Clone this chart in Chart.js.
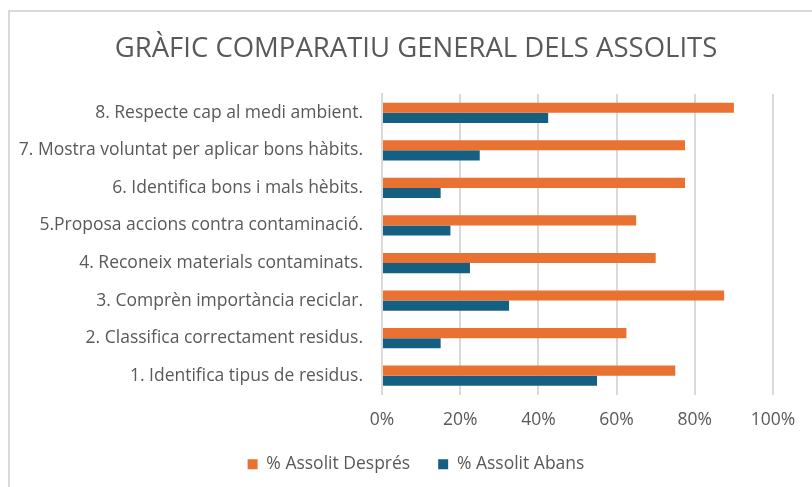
<!DOCTYPE html>
<html>
<head>
<meta charset="utf-8">
<script src="https://cdn.jsdelivr.net/npm/chart.js@4.4.1/dist/chart.umd.min.js"></script>
<style>
  html, body { margin: 0; padding: 0; background: #fff; overflow: hidden; }
  #frame {
    position: absolute; left: 8px; top: 10px;
    width: 830px; height: 490px;
    border-left: 2px solid #d9d9d9; border-top: 2px solid #d9d9d9;
  }
  #wrap { position: absolute; left: 0; top: 0; width: 812px; height: 471px; }
</style>
</head>
<body>
<div id="frame"><div id="wrap"><canvas id="graph"></canvas></div></div>
<script>
// categories (bottom to top, as in the picture)
let categories = [
  "1. Identifica tipus de residus.",
  "2. Classifica correctament residus.",
  "3. Comprèn importància reciclar.",
  "4. Reconeix materials contaminats.",
  "5.Proposa accions contra contaminació.",
  "6. Identifica bons i mals hèbits.",
  "7. Mostra voluntat per aplicar bons hàbits.",
  "8. Respecte cap al medi ambient."
];
let despres = [75, 62.5, 87.5, 70, 65, 77.5, 77.5, 90];
let abans = [55, 15, 32.5, 22.5, 17.5, 15, 25, 42.5];
let xTicks = [0, 20, 40, 60, 80, 100];

const textColor = "#595959";
const fontFam = "'Open Sans', sans-serif";

const ctx = document.getElementById("graph").getContext("2d");
const myChart = new Chart(ctx, {
  type: "bar",
  data: {
    labels: categories,
    datasets: [
      {
        label: "% Assolit Després",
        data: despres,
        backgroundColor: "#E97132",
        borderWidth: 0,
        barPercentage: 1,
        categoryPercentage: 0.54
      },
      {
        label: "% Assolit Abans",
        data: abans,
        backgroundColor: "#156082",
        borderWidth: 0,
        barPercentage: 1,
        categoryPercentage: 0.54
      }
    ]
  },
  options: {
    indexAxis: "y",
    responsive: true,
    maintainAspectRatio: false,
    animation: false,
    layout: { padding: 0 },
    plugins: {
      title: {
        display: true,
        text: "GRÀFIC COMPARATIU GENERAL DELS ASSOLITS",
        color: textColor,
        font: { family: fontFam, size: 27.5, weight: "normal" },
        padding: { top: 21, bottom: 28 }
      },
      legend: {
        position: "bottom",
        labels: {
          color: textColor,
          font: { family: fontFam, size: 17.5 },
          boxWidth: 10,
          boxHeight: 10,
          padding: 28
        }
      },
      tooltip: { enabled: false }
    },
    scales: {
      x: {
        min: 0,
        max: 100,
        afterBuildTicks: axis => {
          axis.ticks = xTicks.map(v => ({ value: v }));
        },
        afterFit: axis => { axis.height = 33; },
        ticks: {
          color: textColor,
          font: { family: fontFam, size: 17.5 },
          padding: 15,
          callback: v => v + "%"
        },
        grid: { color: "#d9d9d9", lineWidth: 2, drawTicks: false },
        border: { display: false }
      },
      y: {
        reverse: true,
        afterFit: axis => { axis.width = 372; },
        ticks: {
          color: textColor,
          font: { family: fontFam, size: 17.5 },
          padding: 19
        },
        grid: { display: false, drawTicks: false },
        border: { display: true, color: "#d9d9d9", width: 2 }
      },
      // empty axis on the right, only to leave room after 100%
      spacer: {
        type: "category",
        position: "right",
        afterFit: axis => { axis.width = 49; },
        ticks: { display: false },
        grid: { display: false, drawTicks: false },
        border: { display: false }
      }
    }
  }
});
</script>
</body>
</html>
